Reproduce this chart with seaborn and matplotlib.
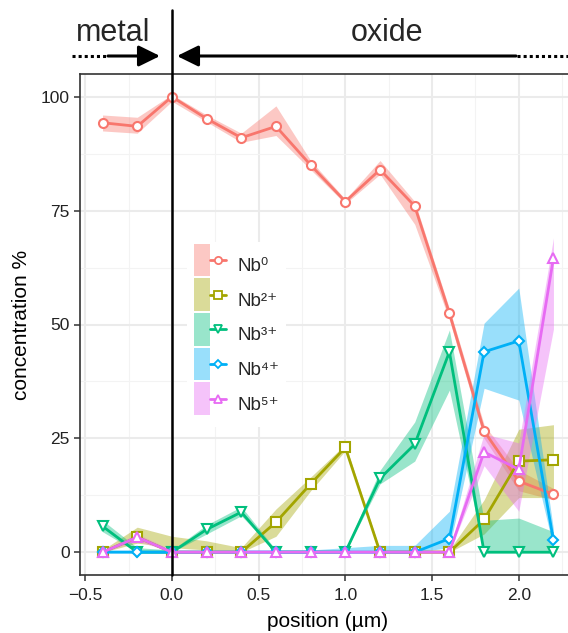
import numpy as np
import pandas as pd
import matplotlib
matplotlib.use("Agg")
import matplotlib.pyplot as plt
import seaborn as sns
from matplotlib.patches import Patch, Rectangle
from matplotlib.lines import Line2D
from matplotlib.legend_handler import HandlerTuple, HandlerPatch

sns.set_theme(style="white")
plt.rcParams["font.family"] = ["Liberation Sans", "DejaVu Sans"]

# ---------------- data ----------------
positions = [-0.4, -0.2, 0.0, 0.2, 0.4, 0.6, 0.8, 1.0, 1.2, 1.4, 1.6, 1.8, 2.0, 2.2]
species = ["Nb⁰", "Nb²⁺", "Nb³⁺", "Nb⁴⁺", "Nb⁵⁺"]

nb0 = [94.3, 93.5, 100, 95.2, 91, 93.5, 85, 77, 84, 76, 52.5, 26.6, 15.6, 12.7]
nb0_lo = [92.5, 92, 99, 94.5, 90, 91.5, 84, 76.5, 83, 72, 51, 25, 13.5, 11.5]
nb0_hi = [96, 95.5, 100.5, 96, 92, 98, 86, 77.5, 86, 77, 53.5, 28, 18, 14]

nb2 = [0, 3.3, 0, 0, 0, 6.6, 15, 23, 0, 0, 0, 7.2, 20, 20.3]
nb2_lo = [0, 2, 1, 0.5, 0, 3.5, 13.5, 22.3, 0, 0, 0, 4, 12, 12]
nb2_hi = [0.5, 5.5, 3.5, 2.5, 1, 9.5, 16.5, 23.7, 0.5, 0.5, 0.5, 11.5, 27, 28]

nb3 = [5.7, 0, 0, 5, 8.8, 0, 0, 0, 16.2, 23.7, 44, 0, 0, 0]
nb3_lo = [4.5, 0, 0, 4, 8, 0, 0, 0, 15, 20, 35.6, 0, 0, 0]
nb3_hi = [7, 1, 0.5, 6, 10, 0.5, 0.5, 0.5, 18, 28.6, 48.8, 7, 7.5, 4.5]

nb4 = [0, 0, 0, 0, 0, 0, 0, 0, 0, 0, 3, 44, 46.4, 2.6]
nb4_lo = [0, 0, 0, 0, 0, 0, 0, 0, 0, 0, 1, 36, 33.4, 1]
nb4_hi = [0.5, 0.5, 0.5, 0.5, 0.5, 0.5, 0.5, 1, 1.5, 1.5, 9, 50.3, 58, 5]

nb5 = [0, 3.3, 0, 0, 0, 0, 0, 0, 0, 0, 0, 22, 18.2, 64.6]
nb5_lo = [0, 2.5, 0, 0, 0, 0, 0, 0, 0, 0, 0, 19, 9, 49]
nb5_hi = [0.5, 4, 0.5, 0.5, 0.5, 0.5, 0.5, 0.5, 0.5, 0.5, 0.5, 26, 24, 69]

x_ticks = [-0.5, 0.0, 0.5, 1.0, 1.5, 2.0]
y_ticks = [0, 25, 50, 75, 100]

values = [nb0, nb2, nb3, nb4, nb5]
lows = [nb0_lo, nb2_lo, nb3_lo, nb4_lo, nb5_lo]
highs = [nb0_hi, nb2_hi, nb3_hi, nb4_hi, nb5_hi]

colors = ["#F8766D", "#A3A500", "#00BF7D", "#00B0F6", "#E76BF3"]
markers = ["o", "s", "v", "D", "^"]
msizes = [6.5, 6.5, 7.5, 5.5, 7.5]

df = pd.concat(
    [pd.DataFrame({"position": positions, "concentration": v, "lo": lo, "hi": hi, "species": s})
     for s, v, lo, hi in zip(species, values, lows, highs)],
    ignore_index=True,
)

# ---------------- figure ----------------
W, H = 568, 633
fig = plt.figure(figsize=(W / 100, H / 100), dpi=100)
ax = fig.add_axes([80 / W, 58 / H, 496 / W, 501 / H])

# ribbons
for s, c in zip(species, colors):
    d = df[df.species == s]
    ax.fill_between(d.position, d.lo, d.hi, color=c, alpha=0.4, lw=0, zorder=2)

# lines + points
for s, c, m, ms in zip(species, colors, markers, msizes):
    d = df[df.species == s]
    sns.lineplot(data=d, x="position", y="concentration", ax=ax, color=c,
                 marker=m, markersize=ms, markerfacecolor="white",
                 markeredgecolor=c, markeredgewidth=1.5, linewidth=2.0,
                 legend=False, zorder=3)

ax.set_xlim(-0.53, 2.33)
ax.set_ylim(-5, 105)
ax.set_xticks(x_ticks)
ax.set_yticks(y_ticks)
ax.set_xticks([-0.25, 0.25, 0.75, 1.25, 1.75, 2.25], minor=True)
ax.set_yticks([12.5, 37.5, 62.5, 87.5], minor=True)
ax.grid(which="major", color="#EBEBEB", lw=1.5)
ax.grid(which="minor", color="#F3F3F3", lw=0.8)
ax.set_axisbelow(True)
for sp in ax.spines.values():
    sp.set_color("#333333")
    sp.set_linewidth(1.2)
ax.tick_params(axis="x", which="major", pad=5)
ax.tick_params(axis="y", which="major", pad=3)
ax.tick_params(axis="both", which="major", direction="out", length=4.5, width=1.1,
               color="#333333", labelcolor="#222222", labelsize=12.5,
               bottom=True, left=True)
ax.tick_params(axis="both", which="minor", length=0)

ax.set_xlabel("position (µm)", fontsize=15, labelpad=6, color="black")
ax.set_ylabel("concentration %", fontsize=15, labelpad=7, color="black")

# vertical interface line extending above the panel
ax.axvline(0, ymin=0, ymax=(575 - 10) / 501, color="black", lw=1.8, clip_on=False, zorder=4)


# legend: key box centred on the line/marker
def centered_patch(legend, orig_handle, xdescent, ydescent, width, height, fontsize):
    return Rectangle((-xdescent, -ydescent / 2), width, height)


handles = [(Patch(facecolor=c, alpha=0.4, edgecolor="none"),
            Line2D([0], [0], color=c, marker=m, markersize=ms * 0.8, markerfacecolor="white",
                   markeredgecolor=c, markeredgewidth=1.3, lw=2.0))
           for c, m, ms in zip(colors, markers, msizes)]
leg = ax.legend(handles, species,
                handler_map={tuple: HandlerTuple(ndivide=None, pad=0),
                             Patch: HandlerPatch(patch_func=centered_patch)},
                loc="upper left", bbox_to_anchor=(178 / W, 1 - 233 / H),
                bbox_transform=fig.transFigure, fontsize=13.5, frameon=True,
                handlelength=1.7, handleheight=2.3, labelspacing=0.11,
                handletextpad=0.6, borderpad=0.35, fancybox=False)
leg.get_frame().set_facecolor("white")
leg.get_frame().set_edgecolor("none")
leg.get_frame().set_alpha(1)

# top annotation: metal / oxide
fig.text(113 / W, 1 - 41 / H, "metal", ha="center", va="baseline", fontsize=22)
fig.text(387 / W, 1 - 41 / H, "oxide", ha="center", va="baseline", fontsize=22)

ya = H - 56
arrow_kw = dict(arrowstyle="-|>,head_length=0.65,head_width=0.32", lw=2.2, color="black",
                shrinkA=0, shrinkB=0, mutation_scale=20)
ax.annotate("", xy=(160, ya), xytext=(108, ya), xycoords="figure pixels",
            textcoords="figure pixels", arrowprops=arrow_kw, annotation_clip=False)
ax.annotate("", xy=(177, ya), xytext=(516, ya), xycoords="figure pixels",
            textcoords="figure pixels", arrowprops=arrow_kw, annotation_clip=False)
fig.add_artist(Line2D([72 / W, 108 / W], [ya / H, ya / H], transform=fig.transFigure,
                      ls=(0, (1, 1)), lw=2.2, color="black"))
fig.add_artist(Line2D([517 / W, 568 / W], [ya / H, ya / H], transform=fig.transFigure,
                      ls=(0, (1, 1)), lw=2.2, color="black"))

fig.savefig("out.png", dpi=100)
